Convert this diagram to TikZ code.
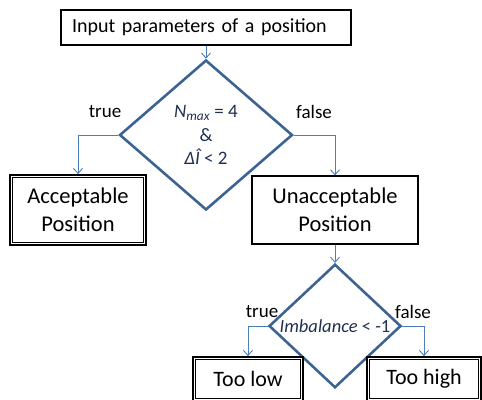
\documentclass[tikz,border=0pt]{standalone}
\usepackage{fontspec}
\setmainfont{Carlito}
\usetikzlibrary{shapes.geometric,arrows.meta}
\definecolor{dmd}{HTML}{3B6494}
\definecolor{connc}{HTML}{4A7EBB}
\definecolor{navy}{HTML}{1F3050}
\begin{document}
\begin{tikzpicture}[x=1pt,y=-1pt,
  box/.style={draw=black, line width=1.2pt, inner sep=0pt, align=center, font=\fontsize{22.5}{28}\selectfont},
  dbl/.style={box, line width=1.8pt},
  dmdnode/.style={diamond, draw=dmd, line width=2.6pt, inner sep=0pt, text=navy, align=center},
  conn/.style={draw=connc, line width=0.9pt, -{Straight Barb[length=5pt,width=9pt]}},
  lbl/.style={font=\fontsize{19}{22}\selectfont}]
\useasboundingbox (0,0) rectangle (482,399);
\clip (0,0) rectangle (482,399);

\node[box, minimum width=290pt, minimum height=35pt, text width=268pt, align=left, font=\fontsize{20}{24}\selectfont] (inp) at (206,27.5) {Input parameters of a position};

\node[dmdnode, minimum width=173pt, minimum height=150pt, font=\fontsize{19}{23.5}\selectfont] (d1) at (206,135) {{\itshape N}\textsubscript{\itshape max} = 4\\\&\\{\itshape ΔÎ} < 2};

\node[dbl, minimum width=136pt, minimum height=70pt] (acc) at (78,210) {Acceptable\\Position};
\node[box, minimum width=166pt, minimum height=68pt] (una) at (335,210) {Unacceptable\\Position};

\node[dmdnode, minimum width=132pt, minimum height=118pt, font=\fontsize{18.5}{22}\selectfont] (d2) at (335,326) {{\itshape Imbalance} < -1};

\node[dbl, minimum width=110pt, minimum height=44pt, font=\fontsize{22}{26}\selectfont] (low) at (248,379) {Too low};
\node[dbl, minimum width=114pt, minimum height=44pt, font=\fontsize{22}{26}\selectfont] (high) at (424,379) {Too high};

\foreach \n in {acc,low,high}
  \draw[line width=0.8pt] ([xshift=3.2pt,yshift=-3.2pt]\n.north west) rectangle ([xshift=-3.2pt,yshift=3.2pt]\n.south east);

\draw[conn] (inp.south) -- (d1.north);
\draw[conn] (d1.west) -| (acc.north);
\draw[conn] (d1.east) -| (una.north);
\draw[conn] (una.south) -- (d2.north);
\draw[conn] (d2.west) -| (low.north);
\draw[conn] (d2.east) -| (high.north);

\node[lbl] (t1) at (105,112) {true};
\node[lbl] (f1) at (314,112) {false};
\node[lbl] (t2) at (262,312) {true};
\node[lbl] (f2) at (413,312) {false};
\end{tikzpicture}
\end{document}
